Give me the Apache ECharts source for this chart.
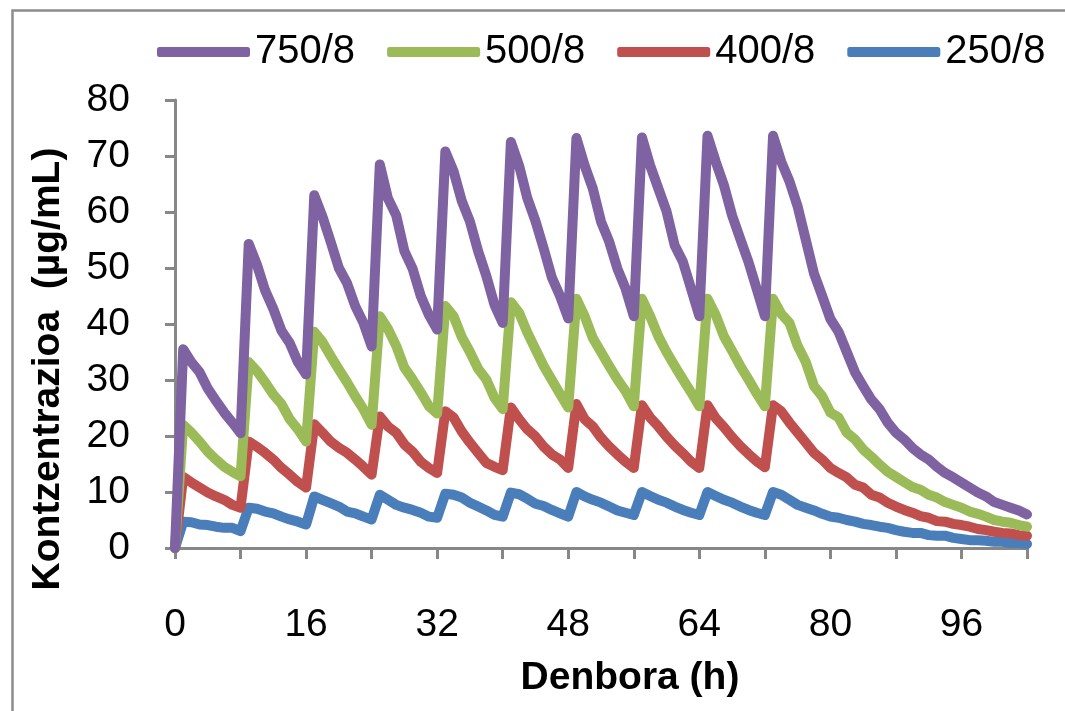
<!DOCTYPE html>
<html>
<head>
<meta charset="utf-8">
<script src="https://cdn.jsdelivr.net/npm/echarts@6/dist/echarts.min.js"></script>
<style>
html,body{margin:0;padding:0;background:#fff;}
#chart{width:1065px;height:711px;}
</style>
</head>
<body>
<div id="chart"></div>
<script>
// Time (h)
const hours = [0,1,2,3,4,5,6,7,8,9,10,11,12,13,14,15,16,17,18,19,20,21,22,23,24,25,26,27,28,29,30,31,32,33,34,35,36,37,38,39,40,41,42,43,44,45,46,47,48,49,50,51,52,53,54,55,56,57,58,59,60,61,62,63,64,65,66,67,68,69,70,71,72,73,74,75,76,77,78,79,80,81,82,83,84,85,86,87,88,89,90,91,92,93,94,95,96,97,98,99,100,101,102,103,104];

const seriesNames = ['750/8', '500/8', '400/8', '250/8'];

const conc750 = [0,35.5,33.2,31.4,28.5,26.3,24.2,22.4,20.5,
  54.3,50.6,46.0,42.7,38.8,36.6,33.2,31.0,
  63.0,59.2,54.7,50.0,47.3,43.2,40.2,36.0,
  68.5,62.4,59.4,53.0,49.9,45.0,41.6,39.0,
  70.8,67.3,62.0,58.3,53.0,48.6,43.4,40.2,
  72.5,68.3,62.5,58.4,53.5,48.3,45.0,41.0,
  73.2,68.3,64.2,58.3,54.7,49.9,46.3,41.4,
  73.3,68.3,64.2,60.1,54.0,51.1,46.3,41.4,
  73.6,69.0,64.8,59.4,55.2,51.1,46.3,41.4,
  73.6,69.0,65.5,61.0,55.0,49.0,45.0,40.9,
  38.6,35.0,31.4,28.9,26.5,24.8,22.4,20.6,
  19.4,17.9,16.7,15.8,14.5,13.4,12.6,11.7,
  10.8,9.9,9.2,8.2,7.7,7.2,6.7,6.0];

const conc500 = [0,22.0,20.6,19.0,17.2,15.8,14.5,13.6,12.8,
  33.2,31.6,29.6,27.4,25.7,23.0,21.2,19.0,
  38.6,36.8,34.3,31.9,29.6,27.1,24.8,22.0,
  41.4,39.1,36.1,32.2,30.1,27.8,25.3,24.0,
  43.2,41.4,37.7,35.0,32.0,30.1,26.8,24.8,
  43.9,42.0,38.5,35.5,32.5,30.0,27.5,25.1,
  44.5,41.4,37.5,35.0,32.5,30.1,28.0,25.3,
  44.5,41.4,37.8,35.0,32.5,30.1,27.8,25.3,
  44.5,41.6,37.8,35.2,32.5,30.1,27.6,25.3,
  44.5,41.8,40.2,36.1,33.2,28.9,27.1,24.2,
  23.3,20.6,19.4,17.6,16.3,14.9,13.6,12.7,
  11.8,10.9,10.4,9.5,9.0,8.2,7.7,7.2,
  6.5,6.1,5.6,5.0,4.7,4.5,4.1,3.8];

const conc400 = [0,12.7,11.7,10.8,9.9,9.2,8.6,7.7,7.2,
  19.0,18.1,17.0,15.8,14.3,13.1,11.8,10.8,
  22.1,20.6,19.0,17.9,17.0,15.8,14.5,13.1,
  23.5,21.7,20.6,18.5,17.2,15.4,14.3,13.4,
  24.4,23.3,20.8,18.8,17.0,15.2,14.5,13.9,
  25.1,23.0,21.2,19.9,18.1,16.7,15.8,14.3,
  25.7,23.0,21.7,19.7,18.1,16.7,15.4,14.3,
  25.5,23.3,21.7,19.9,18.3,16.9,15.4,14.3,
  25.5,23.2,21.6,19.8,18.2,16.8,15.5,14.4,
  25.5,24.4,22.4,20.6,18.8,17.0,15.8,14.3,
  13.4,12.6,11.3,10.8,9.5,9.0,8.1,7.4,
  6.8,6.3,5.7,5.4,4.8,4.7,4.3,4.1,
  3.8,3.4,3.2,2.9,2.7,2.6,2.3,2.2];

const conc250 = [0,4.7,4.6,4.2,4.1,3.8,3.6,3.6,3.0,
  7.2,7.0,6.5,6.2,5.6,5.1,4.7,4.2,
  9.2,8.6,8.0,7.4,6.5,6.2,5.6,5.1,
  9.5,8.6,7.7,7.2,6.8,6.3,5.6,5.4,
  9.7,9.5,9.0,8.1,7.4,6.7,5.9,5.6,
  9.9,9.6,8.8,7.9,7.5,6.8,6.2,5.6,
  10.0,9.2,8.6,8.1,7.4,6.7,6.3,5.9,
  10.0,9.3,8.6,8.1,7.4,6.8,6.3,5.9,
  10.0,9.3,8.6,8.1,7.4,6.8,6.3,5.9,
  10.0,9.5,8.6,7.7,7.2,6.7,6.1,5.6,
  5.4,5.0,4.7,4.3,4.1,3.8,3.6,3.2,
  2.9,2.7,2.7,2.3,2.2,2.2,1.8,1.6,
  1.4,1.4,1.3,1.1,1.1,0.9,0.9,0.7];

const xTicks = [0,16,32,48,64,80,96];
const yTicks = [0,10,20,30,40,50,60,70,80];

const colors = {'750/8':'#7F62A1','500/8':'#9BBB59','400/8':'#C0504D','250/8':'#4A7EBB'};
const valuesByName = {'750/8':conc750,'500/8':conc500,'400/8':conc400,'250/8':conc250};

const FONT = "'Liberation Sans', Arial, sans-serif";
const AXIS_GRAY = '#878787';

function pairs(vals){ return hours.map((h,i)=>[h, vals[i]]); }

// draw order: blue first, purple last (on top)
const drawOrder = ['250/8','400/8','500/8','750/8'];
const series = drawOrder.map(n => ({
  name: n,
  type: 'line',
  data: pairs(valuesByName[n]),
  showSymbol: false,
  symbol: 'none',
  smooth: false,
  color: colors[n],
  lineStyle: {width: 10, color: colors[n], cap: 'round', join: 'round'},
  emphasis: {disabled: true},
  animation: false
}));

const chart = echarts.init(document.getElementById('chart'), null, {renderer: 'canvas'});
chart.setOption({
  animation: false,
  backgroundColor: '#ffffff',
  graphic: [{
    type: 'rect', left: 10, top: 8, z: -10, silent: true,
    shape: {width: 1100, height: 800},
    style: {fill: 'none', stroke: '#8c8c8c', lineWidth: 2.5}
  }],
  legend: {
    data: seriesNames,
    left: 152, top: 27,
    icon: 'roundRect',
    itemWidth: 93, itemHeight: 10, itemGap: 32,
    textStyle: {fontSize: 40, fontFamily: FONT, color: '#000', padding: [0,0,0,0]},
    selectedMode: false
  },
  grid: {left: 175, top: 100, width: 852, height: 448, containLabel: false},
  xAxis: {
    type: 'value', min: 0, max: 104, interval: 8,
    name: 'Denbora (h)', nameLocation: 'middle', nameGap: 111,
    nameTextStyle: {fontSize: 39, fontWeight: 'bold', fontFamily: FONT, color: '#000', padding: [0,0,0,58]},
    axisLine: {show: true, lineStyle: {color: AXIS_GRAY, width: 3}},
    axisTick: {show: true, length: 11, lineStyle: {color: AXIS_GRAY, width: 3}},
    axisLabel: {
      fontSize: 39, fontFamily: FONT, color: '#000', margin: 58,
      formatter: v => xTicks.indexOf(v) >= 0 ? String(v) : ''
    },
    splitLine: {show: false}
  },
  yAxis: {
    type: 'value', min: 0, max: 80, interval: 10,
    name: 'Kontzentrazioa  (µg/mL)', nameLocation: 'middle', nameGap: 107,
    nameTextStyle: {fontSize: 39, fontWeight: 'bold', fontFamily: FONT, color: '#000', padding: [0,90,0,0]},
    axisLine: {show: true, lineStyle: {color: AXIS_GRAY, width: 3}},
    axisTick: {show: true, length: 10, lineStyle: {color: AXIS_GRAY, width: 3}},
    axisLabel: {
      fontSize: 39, fontFamily: FONT, color: '#000', margin: 45,
      formatter: v => yTicks.indexOf(v) >= 0 ? String(v) : ''
    },
    splitLine: {show: false}
  },
  series: series
});
</script>
</body>
</html>
